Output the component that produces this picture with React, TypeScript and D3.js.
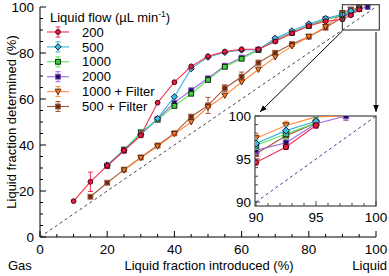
import React from 'react';
import * as d3 from 'd3';

// x positions of the measurements (liquid fraction introduced, %)
const xs = [10, 15, 20, 25, 30, 35, 40, 45, 50, 55, 60, 65, 70, 75, 80, 85, 90, 92.5, 95, 97.5];

const flow200 = [15.6, 24, 31, 37.6, 44.2, 58.4, 67.3, 74.2, 78.6, 80.6, 81.6, 81.6, 85, 88.6, 91.7, 93.8, 94.6, 96.4, 98.9, null];
const flow500 = [null, null, 31.3, 37.8, 44.6, 51.5, 61, 73.2, 78.2, 80.3, 81.3, 81.4, 86.4, 89.6, 92.6, 95, 96.8, 98.3, 99.4, null];
const flow1000 = [null, null, 31, 38, 45.5, 51, 57, 62.3, 68.3, 74, 77.5, 81.3, 85.5, 88.8, 91.8, 94.5, 96.6, 97.9, 99.2, null];
const flow2000 = [null, null, 30.8, 37.5, 44.6, 51.3, 58.4, 63.8, 69, 74.5, 78, 81.5, 85.8, 89, 92, 94.8, 96.0, 96.9, 99.1, 100];
const flow1000f = [null, null, null, 29, 34.4, 39.4, 44.8, 50, 56.4, 61.5, 67.3, 72.8, 78.2, 83, 87.1, 91.4, 97.4, 98.9, 99.9, 100];
const flow500f = [null, 17.5, 23.6, 29.3, 34.6, 39.8, 45.1, 52.3, 57.2, 64.7, 69.7, 75.8, 80.1, 83.9, 87.1, 91, 95.6, 97.7, 99.2, null];

const err200 = [0.5, 4.2, 1, 1, 1, 0.8, 0.8, 0.8, 0.8, 0.6, 0.6, 0.6, 0.6, 0.6, 0.5, 0.5, 0.3, 0.3, 0.3, 0];
const err500f = [0, 0.5, 0.6, 0.6, 0.8, 0.8, 0.8, 1, 3.5, 1.5, 2, 1, 0.8, 0.8, 0.6, 0.6, 0.3, 0.3, 0.3, 0];

const legendLabels = ['200', '500', '1000', '2000', '1000 + Filter', '500 + Filter'];
const mainTicks = [0, 20, 40, 60, 80, 100];
const insetTicks = [90, 95, 100];

type Series = { label: string; values: (number | null)[]; err?: number[]; line: string; fill: string; stroke: string; shape: string };

const series: Series[] = [
  { label: legendLabels[5], values: flow500f, err: err500f, line: '#a0583a', fill: '#6a2a12', stroke: '#a0583a', shape: 'square' },
  { label: legendLabels[4], values: flow1000f, line: '#ff8a3a', fill: '#ff7a20', stroke: '#5a2a10', shape: 'tri' },
  { label: legendLabels[3], values: flow2000, line: '#a066e0', fill: '#1c0c5c', stroke: '#8050c0', shape: 'square' },
  { label: legendLabels[2], values: flow1000, line: '#55e655', fill: '#40d040', stroke: '#103010', shape: 'square' },
  { label: legendLabels[1], values: flow500, line: '#3ab4d8', fill: '#40b8e0', stroke: '#102040', shape: 'diamond' },
  { label: legendLabels[0], values: flow200, err: err200, line: '#f03050', fill: '#e02040', stroke: '#500010', shape: 'circle' },
];
const legendOrder = [5, 4, 3, 2, 1, 0];

const W = 389;
const H = 276;
const FONT = 'Liberation Sans, Arial, sans-serif';

const x = d3.scaleLinear().domain([0, 100]).range([40, 376]);
const y = d3.scaleLinear().domain([0, 100]).range([237, 7]);
const ix = d3.scaleLinear().domain([90, 100]).range([256, 376]);
const iy = d3.scaleLinear().domain([90, 100]).range([202, 116]);

const Marker = ({ cx, cy, s, r = 2.6 }: { cx: number; cy: number; s: Series; r?: number }) => {
  const common = { fill: s.fill, stroke: s.stroke, strokeWidth: 1 };
  if (s.shape === 'circle') return <circle cx={cx} cy={cy} r={r} {...common} />;
  if (s.shape === 'square') return <rect x={cx - r} y={cy - r} width={2 * r} height={2 * r} {...common} />;
  if (s.shape === 'diamond')
    return <path d={`M${cx},${cy - r - 0.8}L${cx + r + 0.8},${cy}L${cx},${cy + r + 0.8}L${cx - r - 0.8},${cy}Z`} {...common} />;
  return <path d={`M${cx - r - 0.5},${cy - r}L${cx + r + 0.5},${cy - r}L${cx},${cy + r + 0.5}Z`} {...common} />;
};

const SeriesMarks = ({ s, sx, sy, r }: { s: Series; sx: d3.ScaleLinear<number, number>; sy: d3.ScaleLinear<number, number>; r: number }) => {
  const pts = xs.map((xv, i) => ({ xv, yv: s.values[i], e: s.err ? s.err[i] : 0.5 })).filter(p => p.yv != null) as { xv: number; yv: number; e: number }[];
  const line = d3.line<{ xv: number; yv: number }>().x(p => sx(p.xv)).y(p => sy(p.yv));
  return (
    <g>
      <path d={line(pts) || ''} fill="none" stroke={s.line} strokeWidth={1.1} />
      {pts.map((p, i) => {
        const px = sx(p.xv);
        const y0 = sy(p.yv - p.e);
        const y1 = sy(p.yv + p.e);
        return (
          <g key={i}>
            {Math.abs(y0 - y1) > 4 && (
              <g stroke={s.line} strokeWidth={1}>
                <line x1={px} x2={px} y1={y0} y2={y1} />
                <line x1={px - 2.5} x2={px + 2.5} y1={y0} y2={y0} />
                <line x1={px - 2.5} x2={px + 2.5} y1={y1} y2={y1} />
              </g>
            )}
            <Marker cx={px} cy={sy(p.yv)} s={s} r={r} />
          </g>
        );
      })}
    </g>
  );
};

export default function App() {
  const mainMinor = d3.range(0, 101, 5);
  const insetMinor = d3.range(90, 100.01, 1);
  return (
    <svg width={W} height={H} style={{ position: 'absolute', left: 0, top: 0, background: '#fff' }} fontFamily={FONT}>
      <defs>
        <marker id="arr" viewBox="0 0 10 10" refX="10" refY="5" markerWidth="7" markerHeight="7" orient="auto-start-reverse">
          <path d="M0,1L10,5L0,9Z" fill="#000" />
        </marker>
        <clipPath id="inclip">
          <rect x={255} y={116} width={121} height={90} />
        </clipPath>
      </defs>

      {/* main axes */}
      <line x1={x(0)} x2={x(100)} y1={y(0)} y2={y(0)} stroke="#000" strokeWidth={1} />
      <line x1={x(0)} x2={x(0)} y1={y(0)} y2={y(100)} stroke="#000" strokeWidth={1} />
      {mainMinor.map(t => {
        const major = t % 20 === 0;
        const len = major ? 6 : 3;
        return (
          <g key={t} stroke="#000" strokeWidth={1}>
            <line x1={x(t)} x2={x(t)} y1={y(0)} y2={y(0) - len} />
            <line x1={x(0)} x2={x(0) + len} y1={y(t)} y2={y(t)} />
          </g>
        );
      })}
      {mainTicks.map(t => (
        <g key={t} fontSize={13.5} fill="#000">
          <text x={x(t)} y={254} textAnchor="middle">{t}</text>
          <text x={34} y={y(t)} dy="0.36em" textAnchor="end">{t}</text>
        </g>
      ))}
      <text x={8} y={270} fontSize={13}>Gas</text>
      <text x={209} y={270} fontSize={13} textAnchor="middle">Liquid fraction introduced (%)</text>
      <text x={387} y={270} fontSize={13} textAnchor="end">Liquid</text>
      <text transform={`translate(16,${122}) rotate(-90)`} fontSize={13} textAnchor="middle">Liquid fraction determined (%)</text>

      {/* y = x reference */}
      <line x1={x(0)} y1={y(0)} x2={x(100)} y2={y(100)} stroke="#444" strokeWidth={1} strokeDasharray="3,3" />

      {series.map(s => (
        <SeriesMarks key={s.label} s={s} sx={x} sy={y} r={2.4} />
      ))}

      {/* zoom box and arrows */}
      <rect x={x(90)} y={y(101)} width={x(101) - x(90)} height={y(90) - y(101)} fill="none" stroke="#444" strokeWidth={1.2} />
      <line x1={x(90)} y1={y(90) + 1} x2={260} y2={112} stroke="#000" strokeWidth={1} markerEnd="url(#arr)" />
      <line x1={x(100)} y1={y(90) + 2} x2={376} y2={112} stroke="#000" strokeWidth={1} markerEnd="url(#arr)" />

      {/* inset */}
      <rect x={255} y={116} width={121} height={90} fill="#fff" stroke="#444" strokeWidth={1.2} />
      {insetMinor.map(t => {
        const major = Math.abs(t % 5) < 1e-6;
        const len = major ? 5 : 3;
        return (
          <g key={t} stroke="#444" strokeWidth={1}>
            <line x1={ix(t)} x2={ix(t)} y1={206} y2={206 - len} />
            <line x1={255} x2={255 + len} y1={iy(t)} y2={iy(t)} />
          </g>
        );
      })}
      {insetTicks.map(t => (
        <g key={t} fontSize={13.5} fill="#000">
          <text x={ix(t)} y={222} textAnchor="middle">{t}</text>
          <text x={251} y={iy(t)} dy="0.36em" textAnchor="end">{t}</text>
        </g>
      ))}
      <g clipPath="url(#inclip)">
        <line x1={ix(90)} y1={iy(90)} x2={ix(100)} y2={iy(100)} stroke="#3a3a9a" strokeWidth={1} strokeDasharray="3,3" />
        {series.map(s => (
          <SeriesMarks key={s.label} s={s} sx={ix} sy={iy} r={2.7} />
        ))}
      </g>

      {/* legend */}
      <text x={50} y={22} fontSize={13}>
        Liquid flow (µL min<tspan dy={-5} fontSize={8.5}>-1</tspan><tspan dy={5}>)</tspan>
      </text>
      {legendOrder.map((si, i) => {
        const s = series[si];
        const ly = 32 + i * 14.9;
        return (
          <g key={s.label}>
            <line x1={47} x2={69} y1={ly} y2={ly} stroke={s.line} strokeWidth={1.1} />
            <g stroke={s.line} strokeWidth={1}>
              <line x1={58} x2={58} y1={ly - 5} y2={ly + 5} />
              <line x1={55.5} x2={60.5} y1={ly - 5} y2={ly - 5} />
              <line x1={55.5} x2={60.5} y1={ly + 5} y2={ly + 5} />
            </g>
            <Marker cx={58} cy={ly} s={s} r={2.4} />
            <text x={82} y={ly} dy="0.36em" fontSize={13}>{s.label}</text>
          </g>
        );
      })}
    </svg>
  );
}
